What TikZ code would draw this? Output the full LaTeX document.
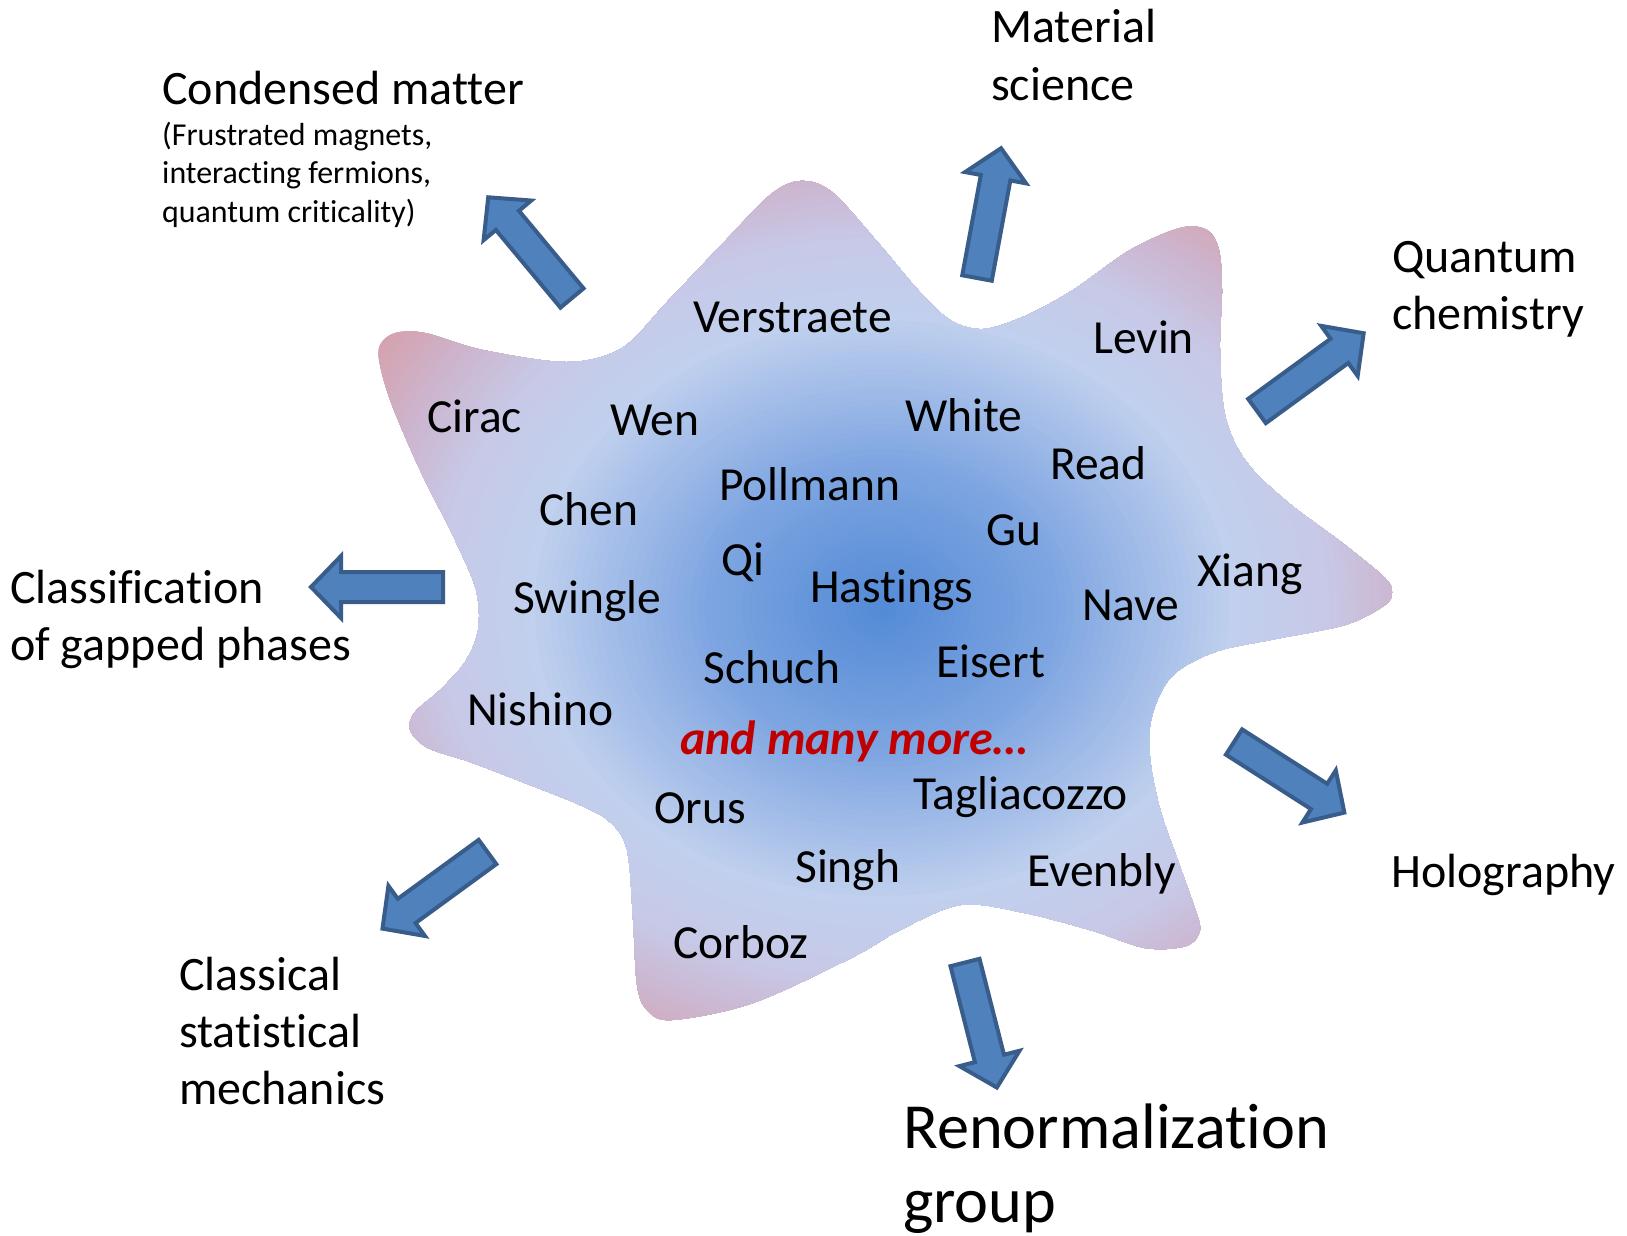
\documentclass[tikz,border=0pt]{standalone}
\usepackage{fontspec}
\setmainfont{Carlito}[Ligatures=NoCommon]
\definecolor{bA}{RGB}{82,138,214}
\definecolor{bB}{RGB}{126,165,225}
\definecolor{bC}{RGB}{192,208,238}
\definecolor{bD}{RGB}{199,201,231}
\definecolor{bE}{RGB}{204,182,208}
\definecolor{bF}{RGB}{213,162,174}
\definecolor{arrFill}{RGB}{79,129,189}
\definecolor{arrLine}{RGB}{56,93,138}
\definecolor{moreRed}{RGB}{192,0,0}
\newcommand{\blockarr}[3]{%
  \draw[blockarrow, shift={#1}, rotate=#2] (0,-15) -- ({#3-30},-15) -- ({#3-30},-31) -- (#3,0) -- ({#3-30},31) -- ({#3-30},15) -- (0,15) -- cycle;}
\begin{document}
\begin{tikzpicture}[x=1pt,y=-1pt,
  nm/.style={anchor=base west, inner sep=0pt, font=\fontsize{47.5}{57}\selectfont},
  hdr/.style={anchor=base west, inner sep=0pt, font=\fontsize{48}{58}\selectfont},
  sml/.style={anchor=base west, inner sep=0pt, font=\fontsize{31.9}{38}\selectfont},
  bigt/.style={anchor=base west, inner sep=0pt, font=\fontsize{64.3}{77}\selectfont},
  moretxt/.style={anchor=base west, inner sep=0pt, text=moreRed, font=\fontsize{48}{57}\selectfont\bfseries\itshape},
  blockarrow/.style={fill=arrFill, draw=arrLine, line width=4pt, line join=miter}]
\useasboundingbox (0,0) rectangle (1627,1235);
\fill[white] (0,0) rectangle (1627,1235);

% blob with radial gradient
\begin{scope}
\clip plot[smooth cycle, tension=0.55] coordinates {
(380,345) (395,333) (425,333) (483,350) (567,362) (622,348) (667,302) (726,240)
(770,195) (800,181) (832,192) (880,245) (918,290) (950,320) (983,329) (1025,316)
(1073,290) (1130,250) (1180,228) (1207,230) (1219,250) (1222,290) (1220,350)
(1225,415) (1245,460) (1285,500) (1345,545) (1385,578) (1392,592) (1385,605) (1345,625)
(1270,640) (1215,652) (1172,676) (1152,716) (1150,757) (1160,809) (1178,861)
(1193,903) (1200,930) (1186,946) (1145,948) (1090,930) (1020,912) (960,905) (900,930)
(853,957) (753,1003) (672,1020) (647,1010) (637,985) (633,920) (627,850)
(610,822) (580,805) (530,785) (470,762) (428,748) (410,730) (415,712) (440,690)
(465,662) (478,630) (476,590) (455,540) (420,470) (392,405) (380,365)};
\fill[bF] (300,150) rectangle (1450,1060);
\foreach \ra/\rb/\ca/\cb in {1.18/1.02/bF/bE,1.02/0.88/bE/bD,0.88/0.7/bD/bC,0.7/0.35/bC/bB,0.35/0.0/bB/bA}{
  \foreach \k in {0,...,23}{
    \pgfmathsetmacro\rr{\ra-(\ra-\rb)*\k/24}
    \pgfmathtruncatemacro\pp{100*\k/24}
    \fill[fill={\cb!\pp!\ca}] (882,608) ellipse [x radius={506*\rr}, y radius={420*\rr}];
  }
}
\end{scope}

% arrows
\blockarr{(572,298)}{129.75}{131}
\blockarr{(977,278)}{79.5}{132}
\blockarr{(1257,411)}{36.1}{132}
\blockarr{(1234,742)}{-32.6}{131}
\blockarr{(443,587)}{180}{132}
\blockarr{(487.5,852)}{-143.9}{130}
\blockarr{(965,962.5)}{-75.7}{129}

% names
\node[nm] (verstraete) at (693,332) {Verstraete};
\node[nm] (levin) at (1093,353) {Levin};
\node[nm] (cirac) at (427,432) {Cirac};
\node[nm] (wen) at (610,435) {Wen};
\node[nm] (white) at (905,431) {White};
\node[nm] (read) at (1050,479) {Read};
\node[nm] (chen) at (539,525) {Chen};
\node[nm] (pollmann) at (719,500) {Pollmann};
\node[nm] (gu) at (986,545) {Gu};
\node[nm] (qi) at (721,575) {Qi};
\node[nm] (hastings) at (810,602) {Hastings};
\node[nm] (xiang) at (1197,586) {Xiang};
\node[nm] (swingle) at (513,613) {Swingle};
\node[nm] (nave) at (1082,620) {Nave};
\node[nm] (schuch) at (703,683) {Schuch};
\node[nm] (eisert) at (936,677) {Eisert};
\node[nm] (nishino) at (467,725) {Nishino};
\node[moretxt] (more) at (680,754) {and many more…};
\node[nm] (orus) at (654,823) {Orus};
\node[nm] (tagliacozzo) at (913,809) {Tagliacozzo};
\node[nm] (singh) at (795,882) {Singh};
\node[nm] (evenbly) at (1027,886) {Evenbly};
\node[nm] (corboz) at (673,958) {Corboz};

% headers
\node[hdr] (mat1) at (991,42) {Material};
\node[hdr] (mat2) at (991,100) {science};
\node[hdr] (cond) at (162,104) {Condensed matter};
\node[sml] (cond1) at (162,145) {(Frustrated magnets,};
\node[sml] (cond2) at (162,183.5) {interacting fermions,};
\node[sml] (cond3) at (162,222) {quantum criticality)};
\node[hdr] (qc1) at (1392,272) {Quantum};
\node[hdr] (qc2) at (1392,329) {chemistry};
\node[hdr] (cl1) at (10,603) {Classification};
\node[hdr] (cl2) at (10,660) {of gapped phases};
\node[hdr] (holo) at (1391,887) {Holography};
\node[hdr] (csm1) at (179,990) {Classical};
\node[hdr] (csm2) at (179,1047) {statistical};
\node[hdr] (csm3) at (179,1104) {mechanics};
\node[bigt] (rg1) at (903,1148) {Renormalization};
\node[bigt] (rg2) at (903,1222) {group};
\end{tikzpicture}
\end{document}
